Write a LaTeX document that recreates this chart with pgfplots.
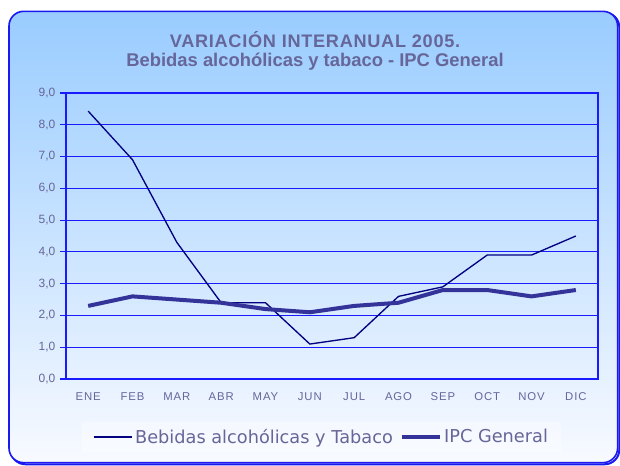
\documentclass[border=0pt]{standalone}
\usepackage{pgfplots}
\pgfplotsset{compat=1.18}
\usepackage{fontspec}
\setmainfont{Liberation Sans}
\newfontfamily\verdana{DejaVu Sans}
\newfontfamily\spaced[LetterSpace=8]{Liberation Sans}
\newfontfamily\tspaced[LetterSpace=4]{Liberation Sans}
\definecolor{txt}{HTML}{666699}
\definecolor{framec}{HTML}{1A1AF0}
\definecolor{gridc}{HTML}{1A1AFF}
\definecolor{topc}{HTML}{99CCFF}
\definecolor{botc}{HTML}{F8FAFF}
\definecolor{bebc}{HTML}{000080}
\definecolor{ipcc}{HTML}{333399}
\begin{document}
\begin{tikzpicture}
\useasboundingbox (0pt,0pt) rectangle (465pt,-349.5pt);
% shadow + frame
\draw[framec, line width=1.5pt, rounded corners=11pt] (8pt,-9.5pt) rectangle (464.5pt,-348.2pt);
\shade[top color=topc, bottom color=botc, rounded corners=11pt] (6.75pt,-8.5pt) rectangle (463.2pt,-347pt);
\draw[framec, line width=1.2pt, rounded corners=11pt] (6.75pt,-8.5pt) rectangle (463.2pt,-347pt);
% title
\node[font=\tspaced\bfseries\fontsize{13.6}{15}\selectfont, text=txt, anchor=base] at (236.25pt,-35.6pt) {VARIACIÓN INTERANUAL 2005.};
\node[font=\bfseries\fontsize{13.8}{15}\selectfont, text=txt, anchor=base] at (236.25pt,-49.8pt) {Bebidas alcohólicas y tabaco - IPC General};
\begin{axis}[
  at={(49.5pt,-284.25pt)}, anchor=south west,
  scale only axis, width=399pt, height=214.5pt,
  xmin=-0.5, xmax=11.5, ymin=0, ymax=9,
  xtick pos=bottom, ytick pos=left,
  xtick={0,...,11},
  xticklabels={ENE,FEB,MAR,ABR,MAY,JUN,JUL,AGO,SEP,OCT,NOV,DIC},
  x tick label style={font=\spaced\fontsize{8.5}{10}\selectfont, text=txt, yshift=-2pt},
  major x tick style={draw=none},
  extra x ticks={-0.5,0.5,...,11.5},
  extra x tick labels={},
  extra x tick style={major tick length=4pt, tick align=outside, tick style={gridc, line width=0.8pt}, grid=none, xtick pos=bottom},
  ytick={0,1,...,9},
  ymajorgrids,
  grid style={gridc, line width=0.8pt},
  y tick label style={font=\fontsize{9}{10}\selectfont, text=txt},
  yticklabel={\pgfmathprintnumber[assume math mode=true, fixed, fixed zerofill, precision=1, use comma]{\tick}},
  tick align=outside, major tick length=4.5pt,
  tick style={gridc, line width=0.8pt},
  axis line style={gridc, line width=1pt},
  legend columns=2,
  legend style={at={(0.481,-0.203)}, anchor=center, draw=none, fill=white, fill opacity=0.35, text opacity=1,
    font=\verdana\fontsize{13.3}{15}\selectfont, text=txt,
    /tikz/every even column/.append style={column sep=3pt},
    inner xsep=8pt, inner ysep=3pt},
  legend image code/.code={\draw[#1] (0pt,0pt) -- (28.5pt,0pt);},
]
\addplot[bebc, line width=1pt] coordinates {(0,8.43) (1,6.9) (2,4.3) (3,2.4) (4,2.4) (5,1.1) (6,1.3) (7,2.6) (8,2.9) (9,3.9) (10,3.9) (11,4.5)};
\addlegendentry{Bebidas alcohólicas y Tabaco}
\addplot[ipcc, line width=3pt] coordinates {(0,2.3) (1,2.6) (2,2.5) (3,2.4) (4,2.2) (5,2.1) (6,2.3) (7,2.4) (8,2.8) (9,2.8) (10,2.6) (11,2.8)};
\addlegendentry{IPC General}
\end{axis}
\end{tikzpicture}
\end{document}
